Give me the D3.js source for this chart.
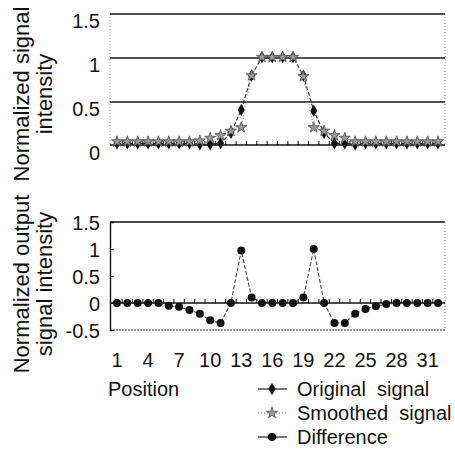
<!DOCTYPE html>
<html>
<head>
<meta charset="utf-8">
<script src="https://cdnjs.cloudflare.com/ajax/libs/d3/7.8.5/d3.min.js"></script>
<style>
  body { margin: 0; background: #fff; }
  svg text { font-family: "Liberation Sans", Arial, sans-serif; fill: #111; white-space: pre; }
</style>
</head>
<body>
<div id="chart"></div>
<script>
const WIDTH = 455;
const HEIGHT = 457;

// data
const positions = d3.range(1, 33);
const xTickLabels = [1, 4, 7, 10, 13, 16, 19, 22, 25, 28, 31];
const topTicks = [0, 0.5, 1, 1.5];
const bottomTicks = [-0.5, 0, 0.5, 1, 1.5];

const original = [0.03, 0.03, 0.03, 0.03, 0.03, 0.03, 0.03, 0.03, 0.02, 0.02, 0.03, 0.15,
    0.41, 0.8, 1.01, 1.01, 1.01, 1.01, 0.8, 0.4, 0.15, 0.03, 0.03, 0.02,
    0.03, 0.03, 0.03, 0.03, 0.03, 0.03, 0.03, 0.03];
const smoothed = [0.05, 0.05, 0.05, 0.05, 0.05, 0.05, 0.05, 0.05, 0.06, 0.09, 0.12, 0.17,
    0.21, 0.8, 1.01, 1.01, 1.01, 1.01, 0.79, 0.21, 0.17, 0.12, 0.09, 0.05,
    0.05, 0.05, 0.05, 0.05, 0.05, 0.05, 0.05, 0.05];
const difference = [0, 0, 0, 0, 0, -0.05, -0.07, -0.13, -0.2, -0.32, -0.37, 0,
    0.97, 0.1, 0, 0, 0, 0, 0.1, 1.0, 0, -0.37, -0.37, -0.2,
    -0.11, -0.06, -0.02, 0, 0, 0, 0, 0];

const PLOT_LEFT = 110;
const PLOT_RIGHT = 445;

const svg = d3.select("#chart").append("svg")
    .attr("width", WIDTH)
    .attr("height", HEIGHT);

const x = d3.scalePoint().domain(positions).range([117, 438]);
const step = x.step();

const yTop = d3.scaleLinear().domain([0, 1.5]).range([146, 14]);
const yBot = d3.scaleLinear().domain([-0.5, 1.5]).range([330, 222]);

const diamond = d3.symbol().type(d3.symbolDiamond).size(44);
const star = d3.symbol().type(d3.symbolStar).size(38);

function drawDiamonds(g, values, y) {
    g.selectAll(null).data(values).enter().append("path")
        .attr("d", diamond)
        .attr("transform", (d, i) => "translate(" + x(positions[i]) + "," + y(d) + ")")
        .attr("fill", "#111");
}

function drawStars(g, values, y) {
    g.selectAll(null).data(values).enter().append("path")
        .attr("d", star)
        .attr("transform", (d, i) => "translate(" + x(positions[i]) + "," + y(d) + ")")
        .attr("fill", "#9a9a9a")
        .attr("stroke", "#555")
        .attr("stroke-width", 0.9);
}

function drawCircles(g, values, y) {
    g.selectAll(null).data(values).enter().append("circle")
        .attr("cx", (d, i) => x(positions[i]))
        .attr("cy", d => y(d))
        .attr("r", 4)
        .attr("fill", "#111");
}

function drawLine(g, values, y, color, dash) {
    const line = d3.line().x((d, i) => x(positions[i])).y(d => y(d));
    g.append("path").datum(values)
        .attr("d", line)
        .attr("fill", "none")
        .attr("stroke", color)
        .attr("stroke-width", 1.1)
        .attr("stroke-dasharray", dash);
}

// category tick marks between points, pointing up from the axis
function catTicks(g, yPos) {
    const bounds = d3.range(positions.length - 1).map(i => x(positions[i]) + step / 2);
    g.selectAll(null).data(bounds).enter().append("line")
        .attr("x1", d => d).attr("x2", d => d)
        .attr("y1", yPos).attr("y2", yPos - 4)
        .attr("stroke", "#111").attr("stroke-width", 1);
}

// ---- top chart ----
const topG = svg.append("g");

topG.append("line").attr("x1", PLOT_LEFT).attr("x2", PLOT_LEFT)
    .attr("y1", yTop(1.5)).attr("y2", yTop(0))
    .attr("stroke", "#999").attr("stroke-dasharray", "1,2");
topG.append("line").attr("x1", PLOT_RIGHT).attr("x2", PLOT_RIGHT)
    .attr("y1", yTop(1.5)).attr("y2", yTop(0))
    .attr("stroke", "#999").attr("stroke-dasharray", "1,2");

topG.selectAll(".grid").data([0.5, 1, 1.5]).enter().append("line")
    .attr("x1", PLOT_LEFT).attr("x2", PLOT_RIGHT)
    .attr("y1", d => yTop(d)).attr("y2", d => yTop(d))
    .attr("stroke", "#1a1a1a").attr("stroke-width", 1.6);

topG.append("line").attr("x1", PLOT_LEFT).attr("x2", PLOT_RIGHT)
    .attr("y1", yTop(0) - 1).attr("y2", yTop(0) - 1)
    .attr("stroke", "#111").attr("stroke-width", 1.4);
catTicks(topG, yTop(0) - 1);

const topAxis = topG.append("g")
    .attr("transform", "translate(" + PLOT_LEFT + ",0)")
    .call(d3.axisLeft(yTop).tickValues(topTicks).tickSize(0).tickPadding(10)
        .tickFormat(d => String(d)));
topAxis.select(".domain").remove();
topAxis.selectAll("text")
    .attr("font-size", 20)
    .attr("font-family", "Liberation Sans, Arial, sans-serif")
    .attr("transform", "translate(0,7)");

drawLine(topG, original, yTop, "#222", "4,2");
drawDiamonds(topG, original, yTop);
drawLine(topG, smoothed, yTop, "#888", "1,2");
drawStars(topG, smoothed, yTop);

// ---- bottom chart ----
const botG = svg.append("g");

botG.append("line").attr("x1", PLOT_LEFT).attr("x2", PLOT_RIGHT)
    .attr("y1", yBot(1.5)).attr("y2", yBot(1.5))
    .attr("stroke", "#111").attr("stroke-width", 1.4);
botG.append("line").attr("x1", PLOT_LEFT).attr("x2", PLOT_RIGHT)
    .attr("y1", yBot(-0.5)).attr("y2", yBot(-0.5))
    .attr("stroke", "#333").attr("stroke-width", 1.2).attr("stroke-dasharray", "2,1");
botG.append("line").attr("x1", PLOT_RIGHT).attr("x2", PLOT_RIGHT)
    .attr("y1", yBot(1.5)).attr("y2", yBot(-0.5))
    .attr("stroke", "#999").attr("stroke-dasharray", "1,2");

const botAxis = botG.append("g")
    .attr("transform", "translate(" + PLOT_LEFT + ",0)")
    .call(d3.axisLeft(yBot).tickValues(bottomTicks).tickSize(-4).tickPadding(10)
        .tickFormat(d => String(d)));
botAxis.select(".domain").attr("stroke", "#111").attr("stroke-width", 1.4);
botAxis.selectAll("line").attr("stroke", "#111");
botAxis.selectAll("text")
    .attr("font-size", 20)
    .attr("font-family", "Liberation Sans, Arial, sans-serif")
    .attr("transform", "translate(0,1)");

botG.append("line").attr("x1", PLOT_LEFT).attr("x2", PLOT_RIGHT)
    .attr("y1", yBot(0)).attr("y2", yBot(0))
    .attr("stroke", "#111").attr("stroke-width", 1.4);
catTicks(botG, yBot(0));

drawLine(botG, difference, yBot, "#444", "4,2");
drawCircles(botG, difference, yBot);

// x labels under the bottom chart
svg.append("g").selectAll("text").data(xTickLabels).enter().append("text")
    .attr("x", d => x(d))
    .attr("y", 367)
    .attr("text-anchor", "middle")
    .attr("font-size", 20)
    .text(d => d);

svg.append("text")
    .attr("x", 108).attr("y", 396)
    .attr("font-size", 20)
    .text("Position");

// y titles, two centred lines each, rotated
function yTitle(lines, cy) {
    lines.forEach((t, i) => {
        svg.append("text")
            .attr("transform", "translate(" + (29 + i * 23) + "," + cy + ") rotate(-90)")
            .attr("text-anchor", "middle")
            .attr("font-size", 22)
            .text(t);
    });
}
yTitle(["Normalized signal", "intensity"], 94);
yTitle(["Normalized output", "signal intensity"], 284);

// legend
const legendItems = ["Original  signal", "Smoothed  signal", "Difference"];
const legend = svg.append("g");
legendItems.forEach((name, i) => {
    const yy = 389 + i * 24;
    const g = legend.append("g");
    g.append("line").attr("x1", 258).attr("x2", 287).attr("y1", yy).attr("y2", yy)
        .attr("stroke", i === 1 ? "#888" : "#222")
        .attr("stroke-width", 1.2)
        .attr("stroke-dasharray", i === 1 ? "1,2" : null);
    if (i === 0) {
        g.append("path").attr("d", diamond).attr("transform", "translate(272," + yy + ")").attr("fill", "#111");
    } else if (i === 1) {
        g.append("path").attr("d", star).attr("transform", "translate(272," + yy + ")")
            .attr("fill", "#9a9a9a").attr("stroke", "#555").attr("stroke-width", 0.9);
    } else {
        g.append("circle").attr("cx", 272).attr("cy", yy).attr("r", 4).attr("fill", "#111");
    }
    g.append("text").attr("x", 297).attr("y", yy + 7)
        .attr("font-size", 20)
        .text(name);
});
</script>
</body>
</html>
